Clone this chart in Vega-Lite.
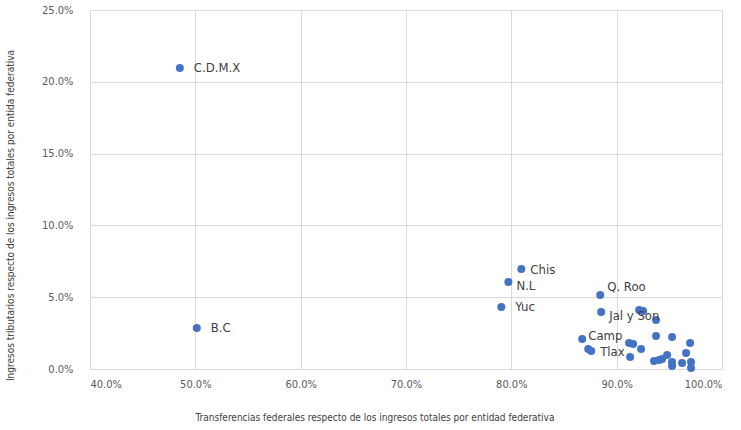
{
  "$schema": "https://vega.github.io/schema/vega-lite/v6.json",
  "width": 632,
  "height": 359,
  "autosize": {"type": "none"},
  "padding": {"left": 90, "top": 10, "right": 19, "bottom": 61},
  "background": "white",
  "config": {
    "view": {"stroke": null},
    "font": "DejaVu Sans Condensed",
    "axis": {
      "labelFont": "DejaVu Sans Condensed",
      "titleFont": "DejaVu Sans Condensed",
      "labelFontSize": 11,
      "labelColor": "#595959",
      "titleFontSize": 10,
      "titleFontWeight": "normal",
      "titleColor": "#404040",
      "gridColor": "#d9d9d9",
      "gridWidth": 1,
      "domain": false,
      "ticks": false
    }
  },
  "data": {
    "values": [
      {"estado": "C.D.M.X", "transf": 48.53, "trib": 20.96},
      {"estado": "B.C", "transf": 50.14, "trib": 2.86},
      {"estado": "Chis", "transf": 80.95, "trib": 6.96},
      {"estado": "N.L", "transf": 79.72, "trib": 6.06},
      {"estado": "Yuc", "transf": 79.05, "trib": 4.32},
      {"estado": "Q. Roo", "transf": 88.44, "trib": 5.15},
      {"estado": "Jal y Son", "transf": 88.53, "trib": 3.97},
      {"estado": "Camp", "transf": 86.73, "trib": 2.09},
      {"estado": "", "transf": 87.3, "trib": 1.39},
      {"estado": "Tlax", "transf": 87.58, "trib": 1.25},
      {"estado": "", "transf": 92.13, "trib": 4.11},
      {"estado": "", "transf": 92.51, "trib": 4.04},
      {"estado": "", "transf": 93.74, "trib": 3.41},
      {"estado": "", "transf": 93.74, "trib": 2.3},
      {"estado": "", "transf": 95.26, "trib": 2.23},
      {"estado": "", "transf": 96.97, "trib": 1.81},
      {"estado": "", "transf": 96.59, "trib": 1.11},
      {"estado": "", "transf": 91.18, "trib": 1.81},
      {"estado": "", "transf": 91.56, "trib": 1.74},
      {"estado": "", "transf": 92.32, "trib": 1.39},
      {"estado": "", "transf": 91.28, "trib": 0.84},
      {"estado": "", "transf": 93.55, "trib": 0.56},
      {"estado": "", "transf": 94.03, "trib": 0.63},
      {"estado": "", "transf": 94.31, "trib": 0.7},
      {"estado": "", "transf": 94.79, "trib": 0.97},
      {"estado": "", "transf": 95.26, "trib": 0.49},
      {"estado": "", "transf": 95.26, "trib": 0.21},
      {"estado": "", "transf": 96.21, "trib": 0.42},
      {"estado": "", "transf": 97.06, "trib": 0.49},
      {"estado": "", "transf": 97.06, "trib": 0.07}
    ]
  },
  "encoding": {
    "x": {
      "field": "transf",
      "type": "quantitative",
      "scale": {"domain": [40, 100], "nice": false, "zero": false},
      "axis": {
        "title": "Transferencias federales respecto de los ingresos totales por entidad federativa",
        "values": [40, 50, 60, 70, 80, 90, 100],
        "labelExpr": "format(datum.value, '.1f') + '%'",
        "labelPadding": 9,
        "titleX": 284.5,
        "titleY": 48,
        "titleBaseline": "middle",
        "titleAlign": "center"
      }
    },
    "y": {
      "field": "trib",
      "type": "quantitative",
      "scale": {"domain": [0, 25], "nice": false},
      "axis": {
        "title": "Ingresos tributarios  respecto de los ingresos totales por entida federativa",
        "values": [0, 5, 10, 15, 20, 25],
        "labelExpr": "format(datum.value, '.1f') + '%'",
        "labelPadding": 17,
        "titleX": -80,
        "titleY": 205,
        "titleAngle": -90,
        "titleBaseline": "middle",
        "titleAlign": "center"
      }
    }
  },
  "layer": [
    {
      "mark": {"type": "point", "filled": true, "shape": "circle", "size": 64, "color": "#4472C4", "opacity": 1}
    },
    {
      "transform": [{"filter": "indexof(['C.D.M.X','B.C','Yuc'], datum.estado) >= 0"}],
      "mark": {"type": "text", "align": "left", "baseline": "middle", "dx": 14, "fontSize": 13, "color": "#404040"},
      "encoding": {"text": {"field": "estado"}}
    },
    {
      "transform": [{"filter": "indexof(['Chis','Tlax'], datum.estado) >= 0"}],
      "mark": {"type": "text", "align": "left", "baseline": "middle", "dx": 9, "dy": 1, "fontSize": 13, "color": "#404040"},
      "encoding": {"text": {"field": "estado"}}
    },
    {
      "transform": [{"filter": "indexof(['N.L','Jal y Son'], datum.estado) >= 0"}],
      "mark": {"type": "text", "align": "left", "baseline": "middle", "dx": 8, "dy": 4, "fontSize": 13, "color": "#404040"},
      "encoding": {"text": {"field": "estado"}}
    },
    {
      "transform": [{"filter": "datum.estado == 'Camp'"}],
      "mark": {"type": "text", "align": "left", "baseline": "middle", "dx": 6, "dy": -3, "fontSize": 13, "color": "#404040"},
      "encoding": {"text": {"field": "estado"}}
    },
    {
      "transform": [{"filter": "datum.estado == 'Q. Roo'"}],
      "mark": {"type": "text", "align": "left", "baseline": "middle", "dx": 7, "dy": -8, "fontSize": 13, "color": "#404040"},
      "encoding": {"text": {"field": "estado"}}
    }
  ]
}
